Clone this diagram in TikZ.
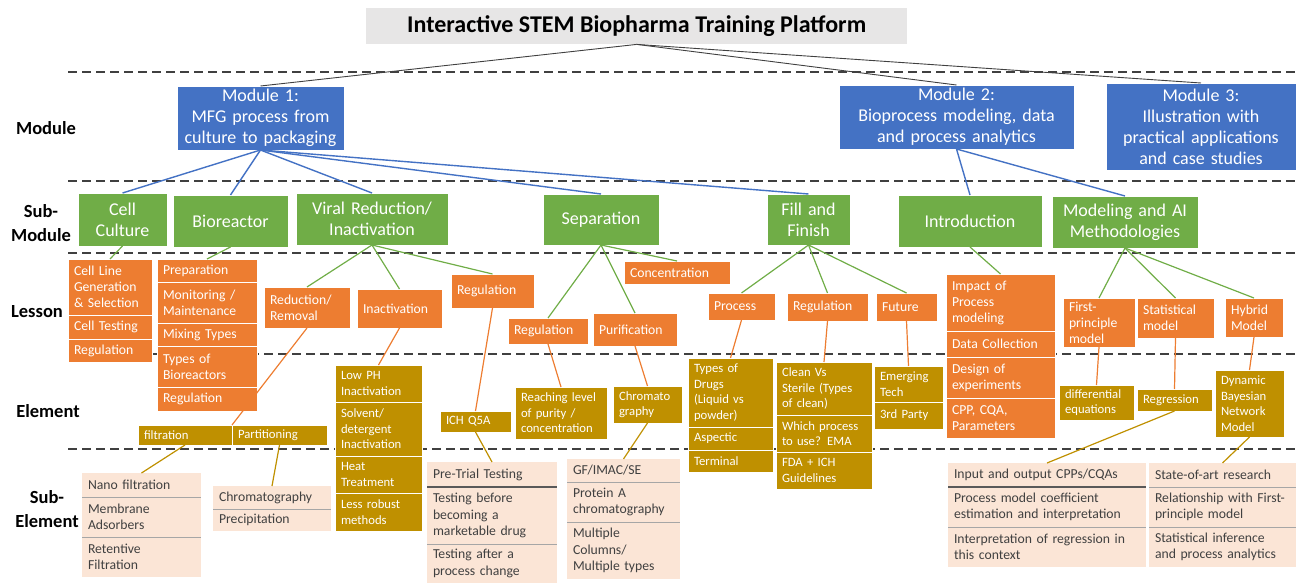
\documentclass[tikz,border=0pt]{standalone}
\usepackage{fontspec}
\setmainfont{Carlito}
\usepackage{tikz}
\usetikzlibrary{positioning}

\definecolor{modblue}{HTML}{4472C4}
\definecolor{subgreen}{HTML}{70AD47}
\definecolor{lesorange}{HTML}{ED7D31}
\definecolor{elgold}{HTML}{BF9000}
\definecolor{sepeach}{HTML}{FBE5D6}
\definecolor{titlegray}{HTML}{E7E6E6}
\definecolor{darktext}{HTML}{404040}

\tikzset{
  blk/.style 2 args={anchor=north west, minimum width=#1, minimum height=#2,
    text width={#1pt-12pt}, inner xsep=6pt, inner ysep=0pt, outer sep=0pt},
  modbox/.style={fill=modblue, draw=white, line width=0.8pt, text=white, align=center,
    font=\fontsize{18}{21}\selectfont},
  subbox/.style={fill=subgreen, draw=white, line width=0.8pt, text=white, align=center,
    font=\fontsize{18}{21}\selectfont},
  lesbox/.style={fill=lesorange, draw=white, line width=0.8pt, text=white, align=left,
    font=\fontsize{13.7}{16}\selectfont},
  elbox/.style={fill=elgold, draw=white, line width=0.8pt, text=white, align=left,
    font=\fontsize{12.7}{15.5}\selectfont},
  sebox/.style={fill=sepeach, text=darktext, align=left,
    font=\fontsize{13.7}{16.5}\selectfont},
  rowlab/.style={font=\bfseries\fontsize{18.5}{24}\selectfont, align=center},
  levelline/.style={draw=black!75, line width=2pt, dash pattern=on 9pt off 5pt},
  titleline/.style={draw=black!75, line width=0.9pt},
  modline/.style={draw=modblue, line width=1.4pt},
  subline/.style={draw=subgreen, line width=1.2pt},
  lesline/.style={draw=lesorange, line width=1.2pt},
  elline/.style={draw=elgold, line width=1.2pt},
  sepline/.style={draw=black!35, line width=1pt},
  sepdark/.style={draw=black!65, line width=1.5pt},
}

\begin{document}
\begin{tikzpicture}[x=1pt, y=-1pt]
    \useasboundingbox (0,0) rectangle (1298,583);

    %% levels
    \foreach \y in {72,181,253,354,449}{
      \draw[levelline] (68,\y) -- (1298,\y);}

    %% row labels
    \node[rowlab] (labmod) at (46,128) {Module};
    \node[rowlab] (labsub) at (41,223) {Sub-\\Module};
    \node[rowlab] (lables) at (37,312) {Lesson};
    \node[rowlab] (label) at (48,411) {Element};
    \node[rowlab] (labsel) at (47,509) {Sub-\\Element};

    %% title
    \node[fill=titlegray, anchor=north west, minimum width=541, minimum height=36,
      font=\bfseries\fontsize{24}{28}\selectfont] (title) at (366,8)
      {Interactive STEM Biopharma Training Platform};

    %% modules
    \node[modbox, blk={167}{64}] (m1) at (177,86) {Module 1:\\MFG process from\\culture to packaging};
    \node[modbox, blk={235}{64}] (m2) at (839,85) {Module 2:\\Bioprocess modeling, data\\and process analytics};
    \node[modbox, blk={190}{87}] (m3) at (1106,83) {Module 3:\\Illustration with\\practical applications\\and case studies};

    %% sub-modules
    \node[subbox, blk={89}{53}] (cc) at (78,193) {Cell\\Culture};
    \node[subbox, blk={115}{52}] (br) at (173,195) {Bioreactor};
    \node[subbox, blk={152}{52}] (vr) at (296,193) {Viral Reduction/\\Inactivation};
    \node[subbox, blk={116}{51}] (sp) at (543,194) {Separation};
    \node[subbox, blk={83}{51}] (ff) at (767,194) {Fill and\\Finish};
    \node[subbox, blk={144}{52}] (in) at (898,195) {Introduction};
    \node[subbox, blk={146}{52}] (ma) at (1052,196) {Modeling and AI\\Methodologies};

    %% lessons
    \node[lesbox, blk={84}{56}] (cl1) at (68,259) {Cell Line\\Generation\\\& Selection};
    \node[lesbox, blk={84}{24}] (cl2) at (68,315) {Cell Testing};
    \node[lesbox, blk={84}{23}] (cl3) at (68,339) {Regulation};
    \node[lesbox, blk={100}{23}] (bp1) at (157,259) {Preparation};
    \node[lesbox, blk={100}{41}] (bp2) at (157,282) {Monitoring /\\Maintenance};
    \node[lesbox, blk={100}{23}] (bp3) at (157,323) {Mixing Types};
    \node[lesbox, blk={100}{41}] (bp4) at (157,346) {Types of\\Bioreactors};
    \node[lesbox, blk={100}{24}] (bp5) at (157,387) {Regulation};
    \node[lesbox, blk={86}{41}] (rr) at (264,287) {Reduction/\\Removal};
    \node[lesbox, blk={85}{39}] (ia) at (357,289) {Inactivation};
    \node[lesbox, blk={83}{34}] (vreg) at (451,274) {Regulation};
    \node[lesbox, blk={106}{23}] (cn) at (624,261) {Concentration};
    \node[lesbox, blk={80}{26}] (sreg) at (508,318) {Regulation};
    \node[lesbox, blk={84}{33}] (pu) at (593,313) {Purification};
    \node[lesbox, blk={67}{27}] (pr) at (708,293) {Process};
    \node[lesbox, blk={81}{28}] (freg) at (787,293) {Regulation};
    \node[lesbox, blk={61}{28}] (fu) at (876,293) {Future};
    \node[lesbox, blk={109}{57}] (im1) at (946,274) {Impact of\\Process\\modeling};
    \node[lesbox, blk={109}{26}] (im2) at (946,331) {Data Collection};
    \node[lesbox, blk={109}{41}] (im3) at (946,357) {Design of\\experiments};
    \node[lesbox, blk={109}{40}] (im4) at (946,398) {CPP, CQA,\\Parameters};
    \node[lesbox, blk={72}{49}] (fp) at (1063,298) {First-\\principle\\model};
    \node[lesbox, blk={77}{40}] (sm) at (1137,298) {Statistical\\model};
    \node[lesbox, blk={58}{39}] (hm) at (1225,298) {Hybrid\\Model};

    %% elements
    \node[elbox, blk={94}{20}] (ft) at (138,425) {filtration};
    \node[elbox, blk={95}{20}] (pa) at (232,425) {Partitioning};
    \node[elbox, blk={87}{37}] (lp1) at (335,365) {Low PH\\Inactivation};
    \node[elbox, blk={87}{54}] (lp2) at (335,402) {Solvent/\\detergent\\Inactivation};
    \node[elbox, blk={87}{37}] (lp3) at (335,456) {Heat\\Treatment};
    \node[elbox, blk={87}{38}] (lp4) at (335,493) {Less robust\\methods};
    \node[elbox, blk={71}{21}] (ich) at (440,411) {ICH Q5A};
    \node[elbox, blk={92}{52}] (rl) at (515,387) {Reaching level\\of purity /\\concentration};
    \node[elbox, blk={69}{37}] (ch) at (613,386) {Chromato\\graphy};
    \node[elbox, blk={85}{69}] (td1) at (688,358) {Types of\\Drugs\\(Liquid vs\\powder)};
    \node[elbox, blk={85}{23}] (td2) at (688,427) {Aspectic};
    \node[elbox, blk={85}{22}] (td3) at (688,450) {Terminal};
    \node[elbox, blk={96}{53}] (cs1) at (776,362) {Clean Vs\\Sterile (Types\\of clean)};
    \node[elbox, blk={96}{37}] (cs2) at (776,415) {Which process\\to use? EMA};
    \node[elbox, blk={96}{37}] (cs3) at (776,452) {FDA + ICH\\Guidelines};
    \node[elbox, blk={69}{36}] (et1) at (874,366) {Emerging\\Tech};
    \node[elbox, blk={69}{27}] (et2) at (874,402) {3rd Party};
    \node[elbox, blk={75}{35}] (de) at (1059,385) {differential\\equations};
    \node[elbox, blk={75}{22}] (rg) at (1137,389) {Regression};
    \node[elbox, blk={69}{67}] (db) at (1215,370) {Dynamic\\Bayesian\\Network\\Model};

    %% sub-elements
    \node[sebox, blk={119}{24}] (nf1) at (82,473) {Nano filtration};
    \node[sebox, blk={119}{40}] (nf2) at (82,497) {Membrane\\Adsorbers};
    \node[sebox, blk={119}{40}] (nf3) at (82,537) {Retentive\\Filtration};
    \node[sebox, blk={118}{23}] (cp1) at (213,486) {Chromatography};
    \node[sebox, blk={118}{22}] (cp2) at (213,509) {Precipitation};
    \node[sebox, blk={130}{25}] (ptt1) at (427,462) {Pre-Trial Testing};
    \node[sebox, blk={130}{57}] (ptt2) at (427,487) {Testing before\\becoming a\\marketable drug};
    \node[sebox, blk={130}{39}] (ptt3) at (427,544) {Testing after a\\process change};
    \node[sebox, blk={113}{23}] (gf1) at (567,459) {GF/IMAC/SE};
    \node[sebox, blk={113}{40}] (gf2) at (567,482) {Protein A\\chromatography};
    \node[sebox, blk={113}{57}] (gf3) at (567,522) {Multiple\\Columns/\\Multiple types};
    \node[sebox, blk={198}{24}] (io1) at (948,463) {Input and output CPPs/CQAs};
    \node[sebox, blk={198}{40}] (io2) at (948,487) {Process model coefficient\\estimation and interpretation};
    \node[sebox, blk={198}{40}] (io3) at (948,527) {Interpretation of regression in\\this context};
    \node[sebox, blk={147}{24}] (sa1) at (1149,463) {State-of-art research};
    \node[sebox, blk={147}{40}] (sa2) at (1149,487) {Relationship with First-\\principle model};
    \node[sebox, blk={147}{40}] (sa3) at (1149,527) {Statistical inference\\and process analytics};

    %% separators
    \foreach \r in {nf2,nf3,cp2,ptt3,gf2,gf3,io3,sa2,sa3}{
      \draw[sepline] (\r.north west) -- (\r.north east);}
    \foreach \r in {ptt2,io2}{
      \draw[sepdark] (\r.north west) -- (\r.north east);}

    %% title to modules
    \foreach \m in {m1,m2,m3}{
      \draw[titleline] (title.south) -- (\m.north);}

    %% modules to sub-modules
    \foreach \s in {cc,br,vr,sp,ff}{
      \draw[modline] (m1.south) -- (\s.north);}
    \foreach \s in {in,ma}{
      \draw[modline] (m2.south) -- (\s.north);}

    %% sub-modules to lessons
    \draw[subline] (cc.south) -- (cl1.north);
    \draw[subline] (br.south) -- (bp1.north);
    \foreach \l in {rr,ia,vreg}{
      \draw[subline] (vr.south) -- (\l.north);}
    \foreach \l in {sreg,pu,cn}{
      \draw[subline] (sp.south) -- (\l.north);}
    \foreach \l in {pr,freg,fu}{
      \draw[subline] (ff.south) -- (\l.north);}
    \draw[subline] (in.south) -- (im1.north);
    \foreach \l in {fp,sm,hm}{
      \draw[subline] (ma.south) -- (\l.north);}

    %% lessons to elements
    \draw[lesline] (rr.south) -- (ft.north east);
    \draw[lesline] (ia.south) -- (lp1.north);
    \draw[lesline] (vreg.south) -- (ich.north);
    \draw[lesline] (sreg.south) -- (rl.north);
    \draw[lesline] (pu.south) -- (ch.north);
    \draw[lesline] (pr.south) -- (td1.north);
    \draw[lesline] (freg.south) -- (cs1.north);
    \draw[lesline] (fu.south) -- (et1.north);
    \draw[lesline] (fp.south) -- (de.north);
    \draw[lesline] (sm.south) -- (rg.north);
    \draw[lesline] (hm.south) -- (db.north);

    %% elements to sub-elements
    \draw[elline] (ft.south) -- (nf1.north);
    \draw[elline] (pa.south) -- (cp1.north);
    \draw[elline] (ich.south) -- (ptt1.north);
    \draw[elline] (ch.south) -- (gf1.north);
    \draw[elline] (rg.south) -- (io1.north);
    \draw[elline] (db.south) -- (sa1.north);

\end{tikzpicture}
\end{document}
